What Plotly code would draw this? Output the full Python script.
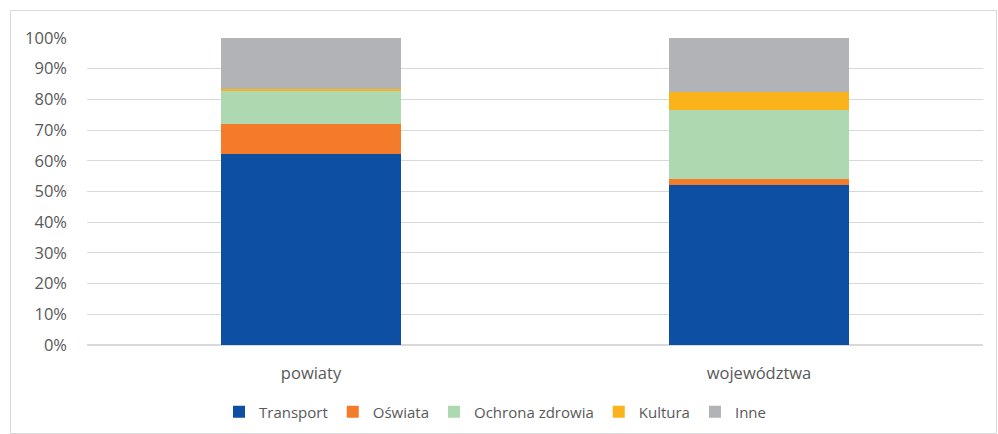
import plotly.graph_objects as go

categories = ["powiaty", "województwa"]
series_names = ["Transport", "Oświata", "Ochrona zdrowia", "Kultura", "Inne"]
transport = [0.621, 0.522]
oswiata = [0.100, 0.019]
ochrona_zdrowia = [0.106, 0.225]
kultura = [0.008, 0.057]
inne = [0.165, 0.177]
tick_vals = [0, 0.1, 0.2, 0.3, 0.4, 0.5, 0.6, 0.7, 0.8, 0.9, 1.0]
tick_text = ["0%", "10%", "20%", "30%", "40%", "50%", "60%", "70%", "80%", "90%", "100%"]

colors = ["#0D4FA2", "#F47B2A", "#AED8AF", "#FBB31B", "#B2B3B6"]
values = [transport, oswiata, ochrona_zdrowia, kultura, inne]

fig = go.Figure()
for name, vals, col in zip(series_names, values, colors):
    fig.add_trace(go.Bar(x=categories, y=vals, name=name, marker=dict(color=col, line=dict(width=0))))

fig.update_layout(
    barmode="stack",
    bargap=0.6,
    width=998, height=434,
    margin=dict(l=87, r=15, t=38, b=89, autoexpand=False),
    paper_bgcolor="white", plot_bgcolor="white",
    font=dict(family="Open Sans, Liberation Sans, sans-serif", size=16, color="#595959"),
    legend=dict(orientation="h", x=495 / 998, xref="container", xanchor="center",
                y=1 - 412 / 434, yref="container", yanchor="middle",
                bgcolor="rgba(0,0,0,0)",
                font=dict(size=15, color="#595959"), traceorder="normal",
                itemwidth=30, itemsizing="constant"),
    xaxis=dict(showgrid=False, showline=False, ticks="", automargin=False, ticklabelstandoff=16,
               tickfont=dict(size=16.5, color="#595959")),
    yaxis=dict(range=[0, 1.0], tickvals=tick_vals, ticktext=tick_text, showgrid=True,
               gridcolor="#D9D9D9", gridwidth=1, zeroline=True, zerolinecolor="#D9D9D9",
               showline=False, ticks="", automargin=False, ticklabelstandoff=19,
               tickfont=dict(size=16.5, color="#595959")),
    shapes=[dict(type="rect", xref="paper", yref="paper",
                 x0=(10.5 - 87) / 896, x1=(996.5 - 87) / 896,
                 y0=(434 - 433.5 - 89) / 307, y1=(434 - 10.5 - 89) / 307,
                 line=dict(color="#D9D9D9", width=1), fillcolor="rgba(0,0,0,0)", layer="below")],
)

fig.write_html("out.html", config={"displayModeBar": False})

with open("out.html", "r", encoding="utf-8") as f:
    html = f.read()
html = html.replace("<body>", '<body style="margin:0;padding:0;overflow:hidden">', 1)
with open("out.html", "w", encoding="utf-8") as f:
    f.write(html)
